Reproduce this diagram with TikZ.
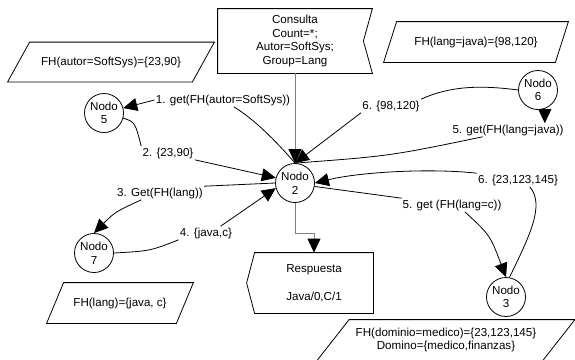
\documentclass[tikz,border=0pt]{standalone}
\usepackage{fontspec}
\setmainfont{Liberation Sans}
\usetikzlibrary{arrows.meta}

\begin{document}
\begin{tikzpicture}[x=1pt,y=-1pt,line width=0.8pt,
  font=\fontsize{11.6}{13.6}\selectfont,
  nodo/.style={circle,draw,minimum size=39pt,inner sep=0pt,align=center},
  etiq/.style={inner sep=1pt},
  caja/.style={inner sep=0pt,align=center},
  flecha/.style={-{Triangle[length=14pt,width=13pt]}},
  gris/.style={draw=gray,-{Triangle[length=14pt,width=13pt,color=black]}}]
  \useasboundingbox (0,0) rectangle (575,359);

  % consulta y respuesta
  \node[caja,minimum width=154pt,minimum height=64pt] (consulta) at (295,41)
    {Consulta\\Count=*;\\Autor=SoftSys;\\Group=Lang};
  \draw (consulta.north west) -- (consulta.north east) -- ([xshift=-9pt]consulta.east)
    -- (consulta.south east) -- (consulta.south west) -- cycle;
  \node[caja,minimum width=118pt,minimum height=60pt] (resp) at (314,283)
    {Respuesta\\[14pt]Java/0,C/1};
  \draw (resp.north west) -- (resp.north east) -- (resp.south east) -- (resp.south west)
    -- ([xshift=-8pt]resp.west) -- cycle;

  % nodos
  \node[nodo] (n2) at (295,183) {Nodo\\2};
  \node[nodo] (n3) at (506,297) {Nodo\\3};
  \node[nodo] (n5) at (104,113) {Nodo\\5};
  \node[nodo] (n6) at (538,90) {Nodo\\6};
  \node[nodo] (n7) at (94,253) {Nodo\\7};

  % tablas FH
  \node[caja,minimum width=184pt,minimum height=39pt] (fh5) at (111,62) {FH(autor=SoftSys)=\{23,90\}};
  \draw ([xshift=11pt]fh5.north west) -- ([xshift=11pt]fh5.north east)
    -- ([xshift=-11pt]fh5.south east) -- ([xshift=-11pt]fh5.south west) -- cycle;
  \node[caja,minimum width=171pt,minimum height=40pt] (fh6) at (476,42) {FH(lang=java)=\{98,120\}};
  \draw ([xshift=6.5pt]fh6.north west) -- ([xshift=6.5pt]fh6.north east)
    -- ([xshift=-6.5pt]fh6.south east) -- ([xshift=-6.5pt]fh6.south west) -- cycle;
  \node[caja,minimum width=129pt,minimum height=40pt] (fh7) at (120,303) {FH(lang)=\{java, c\}};
  \draw ([xshift=8.5pt]fh7.north west) -- ([xshift=8.5pt]fh7.north east)
    -- ([xshift=-8.5pt]fh7.south east) -- ([xshift=-8.5pt]fh7.south west) -- cycle;
  \node[caja,minimum width=225pt,minimum height=40pt] (fh3) at (446,340)
    {FH(dominio=medico)=\{23,123,145\}\\Domino=\{medico,finanzas\}};
  \draw ([xshift=16pt]fh3.north west) -- ([xshift=16pt]fh3.north east)
    -- ([xshift=-16pt]fh3.south east) -- ([xshift=-16pt]fh3.south west) -- cycle;

  % etiquetas
  \node[etiq] (l1) at (223,100) {1. get(FH(autor=SoftSys))};
  \node[etiq] (l2) at (168,153) {2. \{23,90\}};
  \node[etiq] (l3) at (160,193) {3. Get(FH(lang))};
  \node[etiq] (l4) at (206,233) {4. \{java,c\}};
  \node[etiq] (l5) at (508,130) {5. get(FH(lang=java))};
  \node[etiq] (l6) at (391,106) {6. \{98,120\}};
  \node[etiq] (l7) at (518,180) {6. \{23,123,145\}};
  \node[etiq] (l8) at (452,205) {5. get (FH(lang=c))};

  % mensajes
  \draw (n2.north) .. controls (275,140) and (255,120) .. (l1);
  \draw[flecha] (l1.west) -- (n5);
  \draw (n5.-15) .. controls (135,122) .. (l2.north west);
  \draw[flecha] (l2.south east) -- (n2.165);
  \draw (n2.west) -- (l3.north east);
  \draw[flecha] (l3.-160) .. controls (115,212) .. (n7.north);
  \draw (n7.east) .. controls (150,251) .. (l4.south west);
  \draw[flecha] (l4.25) -- (n2.-165);
  \draw (n2.north) .. controls (390,156) .. (l5.-165);
  \draw[flecha] (n6.-70) -- (l5.north -| n6.-70);
  \draw (n6.west) .. controls (480,85) and (450,86) .. (l6.north east);
  \draw[flecha] (l6.south west) -- (n2.north);
  \draw (n3.80) .. controls (530,235) and (545,205) .. (l7.-30);
  \draw[flecha] (l7.north west) .. controls (430,168) and (360,172) .. (n2.east);
  \draw (n2.-10) -- (l8);
  \draw[flecha] (l8.-28) .. controls (490,235) .. (n3.north);
  \draw[gris] (consulta.south) -- (n2.north);
  \draw[gris] (n2.south) -- ++(0,30) -| (resp.north);
\end{tikzpicture}
\end{document}
